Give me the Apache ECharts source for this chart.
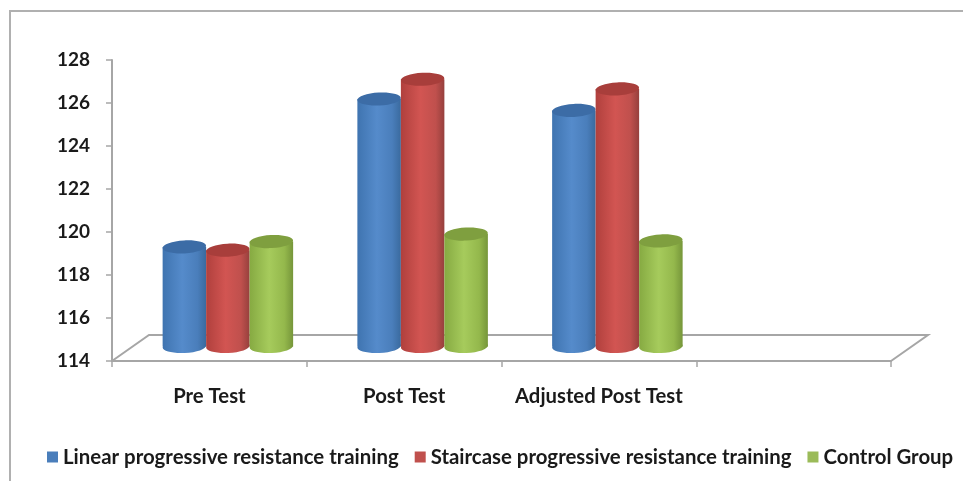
<!DOCTYPE html>
<html><head><meta charset="utf-8">
<style>html,body{margin:0;padding:0;background:#fff}#c{width:963px;height:481px}</style>
<script src="https://cdn.jsdelivr.net/npm/echarts@6/dist/echarts.min.js"></script>
</head><body><div id="c"></div>
<script>
const categories = ['Pre Test', 'Post Test', 'Adjusted Post Test', ''];
const linear = [118.7, 125.58, 125.05, null];
const staircase = [118.55, 126.5, 126.05, null];
const control = [118.95, 119.3, 118.98, null];
const yTicks = {min: 114, max: 128, interval: 2};

const chart = echarts.init(document.getElementById('c'));
const DX = 18.5, DY = -13, BAR = 43.5;
const AXIS = '#a6a6a6';

function shade(c) {
  return new echarts.graphic.LinearGradient(0, 0, 1, 0, [
    {offset: 0, color: c[0]}, {offset: 0.45, color: c[1]},
    {offset: 0.8, color: c[2]}, {offset: 1, color: c[3]}
  ]);
}
function cylinder(idx, palette, topColor) {
  return function (params, api) {
    const v = api.value(1);
    if (v == null || isNaN(v)) return;
    const top = api.coord([api.value(0), v]);
    const base = api.coord([api.value(0), 114]);
    const cx = top[0] + DX + (idx - 1) * BAR;
    const yt = top[1] + DY, yb = base[1] + DY - 1.5;
    const x = cx - BAR / 2, rx = BAR / 2, ry = 6.5;
    return {type: 'group', children: [
      {type: 'rect', shape: {x, y: yt, width: BAR, height: yb - yt}, style: {fill: shade(palette)}},
      {type: 'ellipse', shape: {cx, cy: yb, rx, ry}, rotation: 0.05, originX: cx, originY: yb, style: {fill: shade(palette)}},
      {type: 'ellipse', shape: {cx, cy: yt, rx, ry}, rotation: 0.05, originX: cx, originY: yt, style: {fill: topColor}}
    ]};
  };
}
function floor(params, api) {
  const o = api.coord([0, 114]);
  const s = api.size([1, 1]);
  const x0 = o[0] - s[0] / 2, y0 = o[1], x1 = x0 + s[0] * 4;
  return {type: 'polyline', shape: {points: [[x0, y0], [x0 + 2 * DX, y0 + 2 * DY], [x1 + 2 * DX, y0 + 2 * DY], [x1, y0]]},
    style: {stroke: AXIS, lineWidth: 2, fill: 'none'}};
}

const blue = ['#3f74b0', '#558bcb', '#4a7ebb', '#3a6a9e'];
const red = ['#b0403d', '#d25552', '#c0504d', '#96403d'];
const green = ['#86aa42', '#a6cb5c', '#94b84c', '#76963a'];

chart.setOption({
  animation: false,
  backgroundColor: '#fff',
  textStyle: {fontFamily: 'Lato'},
  grid: {left: 112, right: 72, top: 60, bottom: 120},
  legend: {
    left: 42, top: 442, itemWidth: 11, itemHeight: 11, itemGap: 16, icon: 'rect',
    textStyle: {fontFamily: 'Lato', fontSize: 20.4, fontWeight: 700, color: '#1a1a1a'},
    data: ['Linear progressive resistance training', 'Staircase progressive resistance training', 'Control Group']
  },
  xAxis: {type: 'category', data: categories,
    axisLine: {lineStyle: {color: AXIS, width: 2}},
    axisTick: {show: true, length: 6, lineStyle: {color: AXIS, width: 1.5}},
    axisLabel: {fontSize: 20.3, fontWeight: 700, color: '#1a1a1a', margin: 25, interval: 0},
    splitLine: {show: false}},
  yAxis: {type: 'value', min: yTicks.min, max: yTicks.max, interval: yTicks.interval,
    axisLine: {show: true, lineStyle: {color: AXIS, width: 2}},
    axisTick: {show: true, length: 6, lineStyle: {color: AXIS, width: 1.5}},
    axisLabel: {fontSize: 19, fontWeight: 700, color: '#1a1a1a', margin: 22},
    splitLine: {show: false}},
  series: [
    {type: 'custom', name: 'floor', silent: true, z: 1, data: [[0, 114]], renderItem: floor, clip: false, encode: {x: 0, y: 1}, legendHoverLink: false},
    {type: 'custom', name: 'Linear progressive resistance training', z: 3, renderItem: cylinder(0, blue, '#3c6ca6'), clip: false,
      itemStyle: {color: '#4a7ebb'}, data: linear.map((v, i) => [i, v]), encode: {x: 0, y: 1}},
    {type: 'custom', name: 'Staircase progressive resistance training', z: 3, renderItem: cylinder(1, red, '#a83e3b'), clip: false,
      itemStyle: {color: '#c0504d'}, data: staircase.map((v, i) => [i, v]), encode: {x: 0, y: 1}},
    {type: 'custom', name: 'Control Group', z: 3, renderItem: cylinder(2, green, '#7f9f3f'), clip: false,
      itemStyle: {color: '#9bbb59'}, data: control.map((v, i) => [i, v]), encode: {x: 0, y: 1}}
  ],
  graphic: [{type: 'polyline', silent: true, z: -1, shape: {points: [[10, 481], [10, 11], [963, 11]]}, style: {stroke: '#b0b0b0', lineWidth: 2, fill: 'none'}}]
});
</script></body></html>
